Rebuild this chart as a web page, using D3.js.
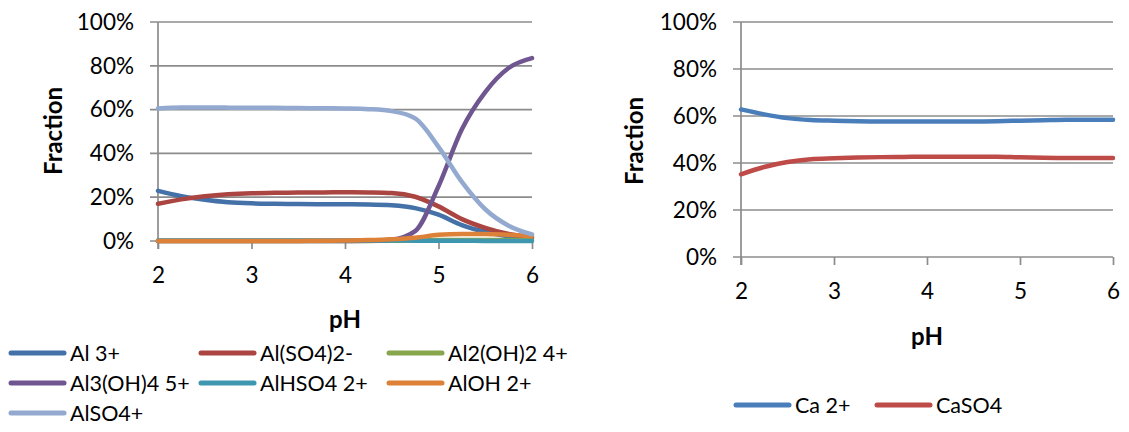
<!DOCTYPE html>
<html>
<head>
<meta charset="utf-8">
<script src="https://cdn.jsdelivr.net/npm/d3@7"></script>
<style>
  body { margin: 0; background: #fff; }
  svg { display: block; }
  text { font-family: Lato, "Liberation Sans", sans-serif; fill: #000; }
</style>
</head>
<body>
<svg id="chart" width="1129" height="432"></svg>
<script>
// pH grid shared by both speciation curves
const pH = [2, 2.25, 2.5, 2.75, 3, 3.25, 3.5, 3.75, 4, 4.25, 4.5, 4.75, 5, 5.25, 5.5, 5.75, 6];

// Aluminium species (% of total Al)
const al3 =      [22.9, 20.5, 18.8, 17.7, 17.2, 17.0, 16.9, 16.8, 16.8, 16.7, 16.3, 15.0, 12.0, 7.3, 4.2, 2.2, 1.3];
const alSO4_2 =  [17.0, 19.0, 20.4, 21.3, 21.8, 22.0, 22.2, 22.2, 22.3, 22.2, 21.9, 20.2, 15.8, 10.0, 6.0, 3.2, 1.8];
const al2OH2 =   [0, 0, 0, 0, 0, 0, 0, 0, 0, 0.05, 0.1, 0.2, 0.4, 0.5, 0.5, 0.4, 0.3];
const al3OH4 =   [0, 0, 0, 0, 0, 0, 0, 0, 0, 0.1, 0.6, 4.5, 25, 51, 68, 79, 83.5];
const alHSO4 =   [0.2, 0.2, 0.2, 0.2, 0.2, 0.2, 0.2, 0.2, 0.2, 0.2, 0.2, 0.15, 0.1, 0.1, 0.05, 0.05, 0.05];
const alOH =     [0, 0, 0, 0, 0, 0, 0.05, 0.1, 0.2, 0.4, 0.8, 1.5, 2.8, 3.2, 3.2, 2.8, 2.2];
const alSO4 =    [60.5, 61.0, 61.0, 60.9, 60.9, 60.8, 60.7, 60.6, 60.5, 60.2, 59.3, 56.0, 43.0, 27.0, 14.5, 7.0, 3.0];

// Calcium species (% of total Ca)
const ca2 =   [62.8, 60.7, 59.1, 58.3, 58.0, 57.8, 57.7, 57.7, 57.7, 57.7, 57.7, 57.8, 58.0, 58.2, 58.4, 58.4, 58.4];
const caSO4 = [35.2, 38.3, 40.4, 41.6, 42.0, 42.3, 42.5, 42.6, 42.7, 42.7, 42.7, 42.7, 42.4, 42.2, 42.1, 42.1, 42.1];

const xTicks = [2, 3, 4, 5, 6];
const yTicks = [0, 20, 40, 60, 80, 100];

const alSeries = [
  { name: "Al 3+",        values: al3,     color: "#4371A8" },
  { name: "Al(SO4)2-",    values: alSO4_2, color: "#AA4542" },
  { name: "Al2(OH)2 4+",  values: al2OH2,  color: "#88A64B" },
  { name: "Al3(OH)4 5+",  values: al3OH4,  color: "#6F5690" },
  { name: "AlHSO4 2+",    values: alHSO4,  color: "#3F97AF" },
  { name: "AlOH 2+",      values: alOH,    color: "#DC8137" },
  { name: "AlSO4+",       values: alSO4,   color: "#93A9CF" }
];

const caSeries = [
  { name: "Ca 2+", values: ca2,   color: "#4A7EBB" },
  { name: "CaSO4", values: caSO4, color: "#BE4B48" }
];

const svg = d3.select("#chart");
const gridColor = "#8c8c8c";

function drawPanel(cfg) {
  const x = d3.scaleLinear().domain([2, 6]).range([cfg.left, cfg.right]);
  const y = d3.scaleLinear().domain([0, 100]).range([cfg.bottom, cfg.top]);
  const g = svg.append("g");

  // horizontal gridlines with short outward ticks
  g.selectAll("line.grid").data(yTicks).join("line")
    .attr("x1", cfg.left - 8).attr("x2", cfg.right)
    .attr("y1", d => y(d)).attr("y2", d => y(d))
    .attr("stroke", gridColor).attr("stroke-width", 1.7);

  // y axis line
  g.append("line")
    .attr("x1", cfg.left).attr("x2", cfg.left)
    .attr("y1", cfg.top).attr("y2", cfg.bottom + 8)
    .attr("stroke", gridColor).attr("stroke-width", 1.7);

  // y tick labels
  const ya = g.append("g").attr("transform", `translate(${cfg.left},0)`)
    .call(d3.axisLeft(y).tickValues(yTicks).tickSize(0).tickPadding(24).tickFormat(d => d + "%"));
  ya.select(".domain").remove();
  ya.selectAll("text").attr("font-size", 22.5).attr("font-family", null).attr("fill", "#000");

  // x axis ticks and labels
  const xa = g.append("g").attr("transform", `translate(0,${cfg.bottom})`)
    .call(d3.axisBottom(x).tickValues(xTicks).tickSize(8).tickFormat(d3.format("d")));
  xa.select(".domain").remove();
  xa.selectAll(".tick line").attr("stroke", gridColor).attr("stroke-width", 1.7);
  xa.selectAll("text").attr("font-size", 22.5).attr("font-family", null).attr("fill", "#000")
    .attr("y", 34).attr("dy", "0.35em");

  // axis titles
  g.append("text")
    .attr("transform", `translate(${cfg.yTitleX},${cfg.yTitleY}) rotate(-90)`)
    .attr("text-anchor", "middle").attr("dominant-baseline", "central")
    .attr("font-size", 24).attr("font-weight", "bold").text("Fraction");
  g.append("text")
    .attr("x", (cfg.left + cfg.right) / 2).attr("y", cfg.xTitleY)
    .attr("text-anchor", "middle").attr("dominant-baseline", "central")
    .attr("font-size", 24).attr("font-weight", "bold").text("pH");

  // series lines
  const line = d3.line()
    .x((d, i) => x(pH[i]))
    .y(d => y(d))
    .curve(d3.curveMonotoneX);
  g.selectAll("path.series").data(cfg.series).join("path")
    .attr("fill", "none")
    .attr("stroke", d => d.color)
    .attr("stroke-width", 4.5)
    .attr("stroke-linecap", "round")
    .attr("stroke-linejoin", "round")
    .attr("d", d => line(d.values));

  // legend
  const lg = g.selectAll("g.legend").data(cfg.series).join("g")
    .attr("transform", (d, i) => `translate(${cfg.legendPos[i][0]},${cfg.legendPos[i][1]})`);
  lg.append("line")
    .attr("x1", 0).attr("x2", 53).attr("y1", 0).attr("y2", 0)
    .attr("stroke", d => d.color).attr("stroke-width", 5).attr("stroke-linecap", "round");
  lg.append("text")
    .attr("x", 59).attr("y", 0).attr("dominant-baseline", "central")
    .attr("font-size", 21.5).text(d => d.name);
}

drawPanel({
  left: 158, right: 532, top: 22, bottom: 241,
  yTitleX: 52, yTitleY: 131, xTitleY: 318,
  series: alSeries,
  legendPos: [[11, 353], [201, 353], [389, 353], [11, 383], [201, 383], [389, 383], [11, 413]]
});

drawPanel({
  left: 741, right: 1113, top: 22, bottom: 257,
  yTitleX: 633, yTitleY: 141, xTitleY: 335,
  series: caSeries,
  legendPos: [[736, 405], [877, 405]]
});
</script>
</body>
</html>
